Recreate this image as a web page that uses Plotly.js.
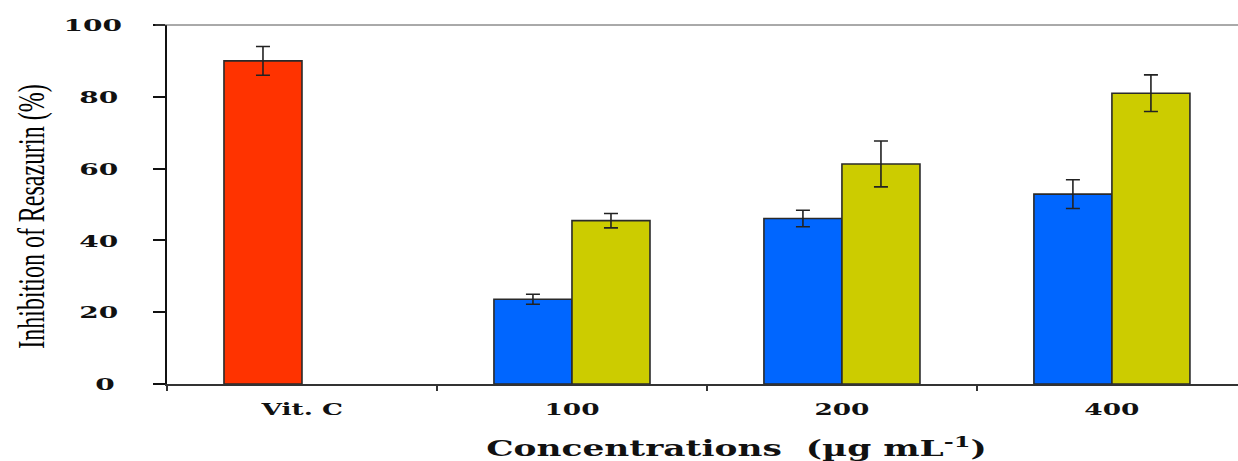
<!DOCTYPE html>
<html>
<head>
<meta charset="utf-8">
<script src="https://cdn.plot.ly/plotly-3.0.1.min.js"></script>
<style>html,body{margin:0;padding:0;background:#fff;}#chart{width:1238px;height:461px;}</style>
</head>
<body>
<div id="chart"></div>
<script>
const categories = ["Vit. C", "100", "200", "400"];
const seriesA = [90, 23.6, 46.1, 52.9];
const errorA = [4.0, 1.4, 2.3, 4.0];
const seriesB = [null, 45.5, 61.3, 81.0];
const errorB = [0, 2.0, 6.4, 5.1];
const colorsA = ["#FF3300", "#0066FF", "#0066FF", "#0066FF"];
const colorB = "#CCCC00";
const yTicks = [0, 20, 40, 60, 80, 100];

const xTickFont = {family: "DejaVu Serif", size: 16.5, color: "#111", weight: "bold"};
const yTickFont = {family: "DejaVu Serif", size: 17.5, color: "#111", weight: "bold"};
const errStyle = {type: "data", visible: true, color: "#222", thickness: 1.6, width: 7};

const traces = [
  {type: "bar", x: categories, y: seriesA,
   error_y: Object.assign({array: errorA}, errStyle),
   marker: {color: colorsA, line: {color: "#2a2a2a", width: 1.6}}, hoverinfo: "none"},
  {type: "bar", x: categories, y: seriesB,
   error_y: Object.assign({array: errorB}, errStyle),
   marker: {color: colorB, line: {color: "#2a2a2a", width: 1.6}}, hoverinfo: "none"}
];

const layout = {
  width: 1238, height: 461,
  margin: {l: 167, r: 0, t: 25, b: 77},
  paper_bgcolor: "#fff", plot_bgcolor: "#fff",
  showlegend: false,
  barmode: "group", bargap: 0.422, bargroupgap: 0,
  xaxis: {
    type: "category", range: [-0.5, 3.467],
    showline: true, linecolor: "#333", linewidth: 2,
    ticks: "outside", tickson: "boundaries", ticklen: 5, tickwidth: 2, tickcolor: "#333",
    tickfont: xTickFont, ticklabelstandoff: 9,
    showgrid: false, zeroline: false, fixedrange: true
  },
  yaxis: {
    range: [0, 100], tickvals: yTicks,
    showline: true, linecolor: "#111", linewidth: 2.5,
    ticks: "outside", ticklen: 12, tickwidth: 2, tickcolor: "#111",
    tickfont: yTickFont, ticklabelstandoff: 38,
    showgrid: false, zeroline: false, fixedrange: true,
    title: {text: "Inhibition of Resazurin (%)", font: {family: "Liberation Serif", size: 24, color: "#000"}, standoff: 28}
  },
  shapes: [
    {type: "line", xref: "paper", yref: "paper", x0: -0.011, x1: 1, y0: 1, y1: 1, line: {color: "#555", width: 1}}
  ],
  annotations: [
    {text: "Concentrations  (µg mL<sup>-1</sup>)", xref: "paper", yref: "paper", x: 0.532, y: 0, yshift: -63,
     xanchor: "center", yanchor: "middle", showarrow: false,
     font: {family: "DejaVu Serif", size: 21.5, color: "#111", weight: "bold"}}
  ]
};

// The reference artwork is stretched horizontally; reproduce that on the text.
const STRETCH = 1.6;
Plotly.newPlot("chart", traces, layout, {displayModeBar: false, staticPlot: true}).then(function (gd) {
  gd.querySelectorAll(".xtick text, .ytick text, .annotation-text").forEach(function (el) {
    const b = el.getBBox();
    const cx = b.x + b.width / 2;
    const t = el.getAttribute("transform") || "";
    el.setAttribute("transform", (t + " translate(" + cx + ",0) scale(" + STRETCH + ",1) translate(" + (-cx) + ",0)").trim());
  });
  const yt = gd.querySelector(".ytitle");
  if (yt) {
    const b = yt.getBBox();
    const cy = b.y + b.height / 2;
    const t = yt.getAttribute("transform") || "";
    yt.setAttribute("transform", (t + " translate(-12," + cy + ") scale(1," + STRETCH + ") translate(0," + (-cy) + ")").trim());
  }
});
</script>
</body>
</html>
